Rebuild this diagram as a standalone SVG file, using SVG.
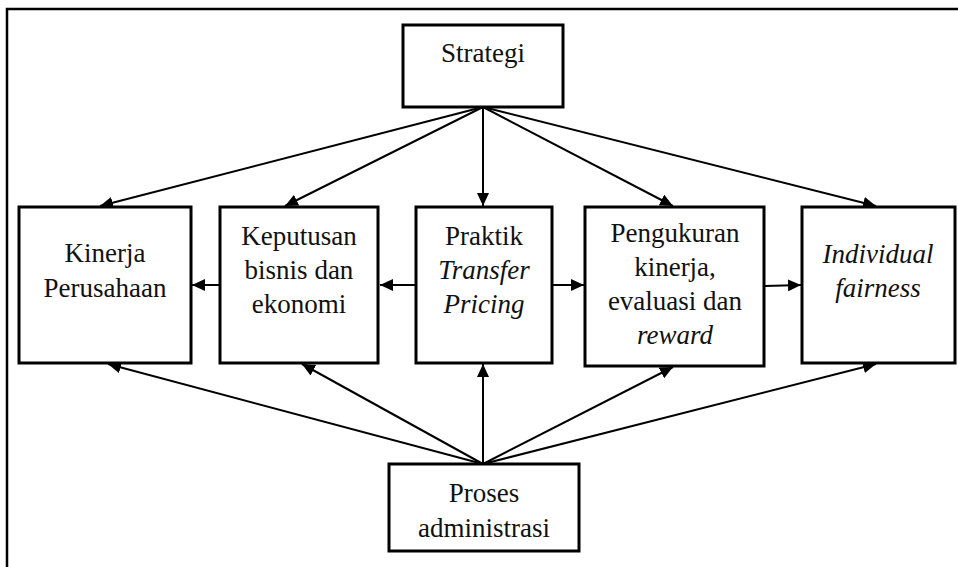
<svg xmlns="http://www.w3.org/2000/svg" width="958" height="567" viewBox="0 0 958 567">
  <style>
    .box { fill: #ffffff; stroke: #000000; stroke-width: 3; }
    .frame { fill: none; stroke: #000000; stroke-width: 2.5; }
    .link { fill: none; stroke: #000000; stroke-width: 2; marker-end: url(#head); }
    text { font-family: "Liberation Serif", "Times New Roman", serif; font-size: 27px; fill: #111111; text-anchor: middle; }
    .it { font-style: italic; }
  </style>
  <defs>
    <marker id="head" markerUnits="userSpaceOnUse" markerWidth="14" markerHeight="12" refX="13" refY="6" orient="auto">
      <path d="M0,0 L13,6 L0,12 Z" fill="#000000"/>
    </marker>
  </defs>
  <rect width="958" height="567" fill="#ffffff"/>
  <!-- outer frame (top and left edges) -->
  <path class="frame" d="M7,567 L7,9 L958,9"/>

  <g id="connectors">
    <!-- from Strategi -->
    <line class="link" x1="483" y1="107" x2="100" y2="206"/>
    <line class="link" x1="483" y1="107" x2="285" y2="206"/>
    <line class="link" x1="483" y1="107" x2="483" y2="206"/>
    <line class="link" x1="483" y1="107" x2="673" y2="206"/>
    <line class="link" x1="483" y1="107" x2="876" y2="206"/>
    <!-- from Proses administrasi -->
    <line class="link" x1="483" y1="464" x2="108" y2="364"/>
    <line class="link" x1="483" y1="464" x2="302" y2="364"/>
    <line class="link" x1="483" y1="464" x2="483" y2="364"/>
    <line class="link" x1="483" y1="464" x2="673" y2="367"/>
    <line class="link" x1="483" y1="464" x2="876" y2="364"/>
    <!-- horizontal chain -->
    <line class="link" x1="220" y1="285" x2="192" y2="285"/>
    <line class="link" x1="416" y1="285" x2="380" y2="285"/>
    <line class="link" x1="552" y1="285" x2="584" y2="285"/>
    <line class="link" x1="765" y1="286" x2="801" y2="285"/>
  </g>

  <g id="strategi">
    <rect class="box" x="403" y="25" width="160" height="82"/>
    <text x="483" y="62">Strategi</text>
  </g>

  <g id="kinerja">
    <rect class="box" x="19" y="207" width="172" height="156"/>
    <text x="105" y="262">Kinerja</text>
    <text x="105" y="297">Perusahaan</text>
  </g>

  <g id="keputusan">
    <rect class="box" x="220" y="207" width="158" height="156"/>
    <text x="299" y="245">Keputusan</text>
    <text x="299" y="279">bisnis dan</text>
    <text x="299" y="313">ekonomi</text>
  </g>

  <g id="praktik">
    <rect class="box" x="416" y="207" width="136" height="156"/>
    <text x="484" y="245">Praktik</text>
    <text x="484" y="279" class="it">Transfer</text>
    <text x="484" y="313" class="it">Pricing</text>
  </g>

  <g id="pengukuran">
    <rect class="box" x="585" y="207" width="179" height="159"/>
    <text x="675" y="242">Pengukuran</text>
    <text x="675" y="276">kinerja,</text>
    <text x="675" y="310">evaluasi dan</text>
    <text x="675" y="344" class="it">reward</text>
  </g>

  <g id="individual">
    <rect class="box" x="802" y="207" width="153" height="156"/>
    <text x="878" y="263" class="it">Individual</text>
    <text x="878" y="297" class="it">fairness</text>
  </g>

  <g id="proses">
    <rect class="box" x="389" y="464" width="190" height="87"/>
    <text x="484" y="502">Proses</text>
    <text x="484" y="537">administrasi</text>
  </g>
</svg>
